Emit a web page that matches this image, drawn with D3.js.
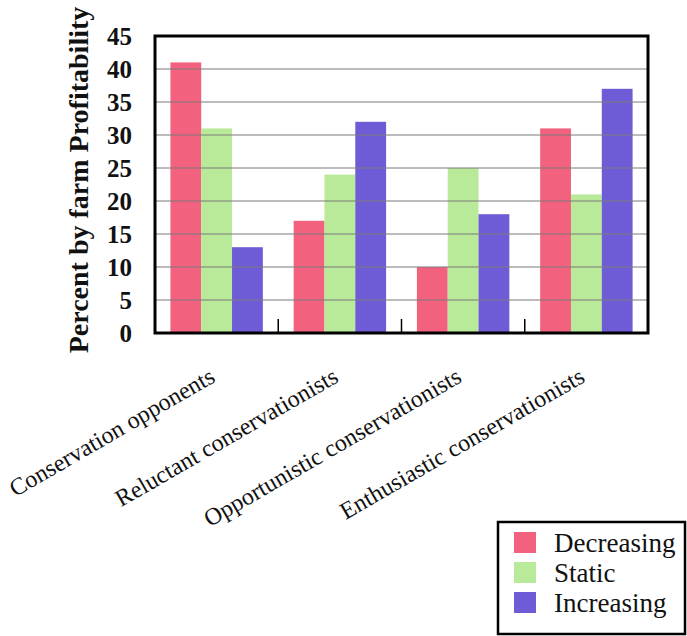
<!DOCTYPE html>
<html>
<head>
<meta charset="utf-8">
<script src="https://cdn.jsdelivr.net/npm/d3@7"></script>
<style>
  html, body { margin: 0; padding: 0; background: #fff; }
  svg { display: block; }
  .serif { font-family: "Liberation Serif" !important; }
</style>
</head>
<body>
<svg id="chart" width="687" height="636"></svg>
<script>
// ---- data ----
const categories = ["Conservation opponents", "Reluctant conservationists", "Opportunistic conservationists", "Enthusiastic conservationists"];
const seriesNames = ["Decreasing", "Static", "Increasing"];
const decreasing = [41, 17, 10, 31];
const staticVals = [31, 24, 25, 21];
const increasing = [13, 32, 18, 37];
const yTicks = [0, 5, 10, 15, 20, 25, 30, 35, 40, 45];
const yTitle = "Percent by farm Profitability";
const colors = ["#f2627f", "#b8ea9a", "#6e5cd6"];

const seriesValues = [decreasing, staticVals, increasing];
const rows = categories.map((c, i) => ({
  cat: c,
  vals: seriesNames.map((s, j) => ({ key: s, value: seriesValues[j][i], idx: j }))
}));

const FONT = "Liberation Serif";

// ---- layout ----
const svg = d3.select("#chart");
const plot = { left: 155, right: 648, top: 36, bottom: 333 };

const x0 = d3.scaleBand().domain(categories).range([plot.left, plot.right]).padding(0);
const bw = x0.bandwidth();
const x1 = d3.scaleBand().domain(seriesNames).range([bw * 0.125, bw * 0.875]).padding(0);
const y = d3.scaleLinear().domain([0, 45]).range([plot.bottom, plot.top]);
const color = d3.scaleOrdinal().domain(seriesNames).range(colors);

// bars
const g = svg.append("g");
g.selectAll("g.grp").data(rows).join("g")
  .attr("class", "grp")
  .attr("transform", d => `translate(${x0(d.cat)},0)`)
  .selectAll("rect").data(d => d.vals).join("rect")
  .attr("x", d => x1(d.key))
  .attr("width", x1.bandwidth())
  .attr("y", d => y(d.value))
  .attr("height", d => y(0) - y(d.value))
  .attr("fill", d => color(d.key));

// gridlines (drawn over bars, as in the original)
svg.append("g").selectAll("line").data(yTicks.filter(t => t > 0 && t < 45)).join("line")
  .attr("x1", plot.left).attr("x2", plot.right)
  .attr("y1", d => y(d)).attr("y2", d => y(d))
  .attr("stroke", "#7a7a7a").attr("stroke-width", 1);

// category separator ticks on bottom axis
svg.append("g").selectAll("line").data(categories.slice(1)).join("line")
  .attr("x1", d => x0(d)).attr("x2", d => x0(d))
  .attr("y1", plot.bottom).attr("y2", plot.bottom - 14)
  .attr("stroke", "#000").attr("stroke-width", 1.5);

// frame
svg.append("rect")
  .attr("x", plot.left).attr("y", plot.top)
  .attr("width", plot.right - plot.left).attr("height", plot.bottom - plot.top)
  .attr("fill", "none").attr("stroke", "#000").attr("stroke-width", 3);

// y axis labels
const yAxis = d3.axisLeft(y).tickValues(yTicks).tickSize(0).tickPadding(23);
const ya = svg.append("g").attr("transform", `translate(${plot.left},0)`).call(yAxis);
ya.select(".domain").remove();
ya.attr("font-family", FONT).attr("font-size", 25);
ya.selectAll("text")
  .attr("class", "serif")
  .style("font-family", FONT)
  .attr("font-weight", "bold").attr("font-size", 25).attr("fill", "#111")
  .attr("dy", "0.34em");

// y title
svg.append("text")
  .attr("class", "serif")
  .style("font-family", FONT)
  .attr("font-family", FONT)
  .attr("transform", "translate(88,180) rotate(-90)")
  .attr("text-anchor", "middle")
  .attr("font-weight", "bold").attr("font-size", 28).attr("fill", "#111")
  .text(yTitle);

// x labels (rotated)
svg.append("g").selectAll("text").data(categories).join("text")
  .attr("class", "serif")
  .style("font-family", FONT)
  .attr("font-family", FONT)
  .attr("transform", d => `translate(${x0(d) + bw / 2},381) rotate(-30)`)
  .attr("text-anchor", "end")
  .attr("font-size", 24).attr("fill", "#111")
  .text(d => d);

// legend
const lg = svg.append("g");
lg.append("rect").attr("x", 498).attr("y", 522).attr("width", 187).attr("height", 112)
  .attr("fill", "#fff").attr("stroke", "#000").attr("stroke-width", 2.5);
const items = lg.selectAll("g.item").data(seriesNames).join("g")
  .attr("class", "item")
  .attr("transform", (d, i) => `translate(514,${532 + i * 30})`);
items.append("rect").attr("width", 22).attr("height", 21).attr("fill", d => color(d));
items.append("text").attr("class", "serif")
  .style("font-family", FONT)
  .attr("font-family", FONT)
  .attr("x", 40).attr("y", 20)
  .attr("font-size", 27).attr("fill", "#111")
  .text(d => d);
</script>
</body>
</html>
